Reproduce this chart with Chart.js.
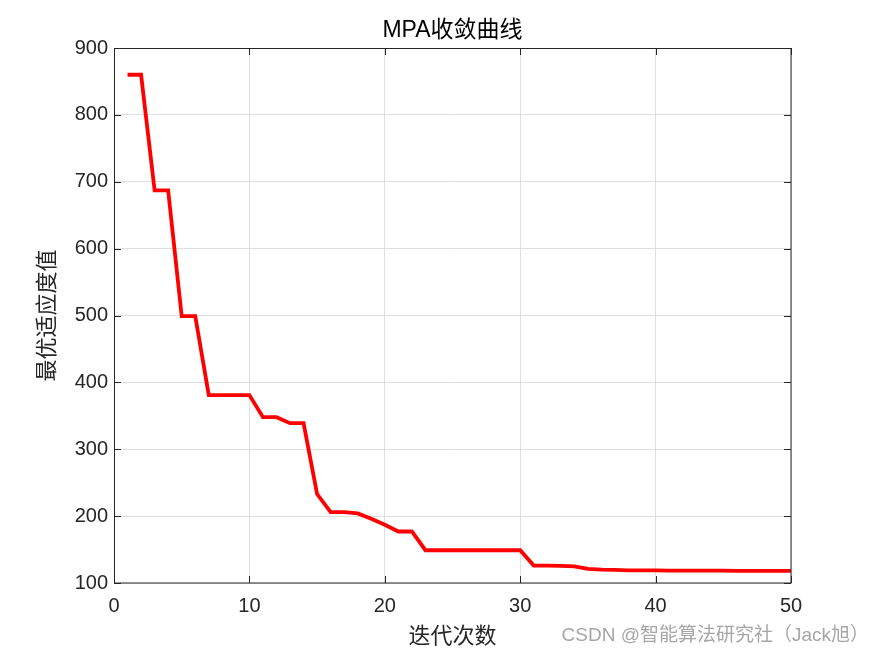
<!DOCTYPE html>
<html>
<head>
<meta charset="utf-8">
<script src="https://cdn.jsdelivr.net/npm/chart.js@4.4.0/dist/chart.umd.min.js"></script>
<style>
html,body{margin:0;padding:0;background:#fff;}
#c{display:block;}
</style>
</head>
<body>
<canvas id="c" width="875" height="656"></canvas>
<script>
const iterations = [1,2,3,4,5,6,7,8,9,10,11,12,13,14,15,16,17,18,19,20,21,22,23,24,25,26,27,28,29,30,31,32,33,34,35,36,37,38,39,40,41,42,43,44,45,46,47,48,49,50];
const bestFitness = [860,860,687,687,499,499,381,381,381,381,348,348,339,339,233,206,206,204,196,187,177,177,149,149,149,149,149,149,149,149,126,126,125.5,125,121,120,119.5,119,119,119,118.5,118.5,118.5,118.5,118.5,118,118,118,118,118];
const xTicks = [0,10,20,30,40,50];
const yTicks = [100,200,300,400,500,600,700,800,900];
const chartTitle = 'MPA收敛曲线';
const xTitle = '迭代次数';
const yTitle = '最优适应度值';
const watermark = 'CSDN @智能算法研究社（Jack旭）';

const points = iterations.map((x, i) => ({x: x, y: bestFitness[i]}));
const tickFont = {family: '"Liberation Sans", Arial, sans-serif', size: 20};
const axisColor = '#262626';

const decor = {
  id: 'decor',
  afterDraw(chart) {
    const ctx = chart.ctx;
    const a = chart.chartArea;
    const xs = chart.scales.x, ys = chart.scales.y;
    ctx.save();
    ctx.strokeStyle = axisColor;
    ctx.lineWidth = 1;
    ctx.strokeRect(Math.round(a.left) + 0.5, Math.round(a.top) + 0.5, Math.round(a.right - a.left) - 1 + 0.5, Math.round(a.bottom - a.top) - 1 + 0.5);
    const tl = 7;
    ctx.beginPath();
    xTicks.forEach(v => {
      const px = Math.round(xs.getPixelForValue(v)) + 0.5;
      ctx.moveTo(px, a.bottom); ctx.lineTo(px, a.bottom - tl);
      ctx.moveTo(px, a.top); ctx.lineTo(px, a.top + tl);
    });
    yTicks.forEach(v => {
      const py = Math.round(ys.getPixelForValue(v)) + 0.5;
      ctx.moveTo(a.left, py); ctx.lineTo(a.left + tl, py);
      ctx.moveTo(a.right, py); ctx.lineTo(a.right - tl, py);
    });
    ctx.stroke();
    const cx = (a.left + a.right) / 2;
    ctx.fillStyle = '#000';
    ctx.textAlign = 'center';
    ctx.textBaseline = 'middle';
    ctx.font = '23px "Liberation Sans", "Noto Sans CJK SC", sans-serif';
    ctx.fillText(chartTitle, cx, 31);
    ctx.fillStyle = axisColor;
    ctx.font = '22px "Noto Sans CJK SC", sans-serif';
    ctx.fillText(xTitle, cx, 635);
    ctx.save();
    ctx.translate(46, (a.top + a.bottom) / 2);
    ctx.rotate(-Math.PI / 2);
    ctx.fillText(yTitle, 0, 0);
    ctx.restore();
    ctx.fillStyle = '#a6a6a6';
    ctx.textAlign = 'right';
    ctx.font = '19px "Liberation Sans", "Noto Sans CJK SC", sans-serif';
    ctx.fillText(watermark, 869, 636);
    ctx.restore();
  }
};

new Chart(document.getElementById('c'), {
  type: 'line',
  data: {
    datasets: [{
      data: points,
      borderColor: '#ff0000',
      borderWidth: 3.8,
      pointRadius: 0,
      tension: 0,
      fill: false
    }]
  },
  options: {
    responsive: false,
    animation: false,
    devicePixelRatio: 1,
    layout: {padding: {left: 0, top: 48, right: 84, bottom: 0}},
    plugins: {legend: {display: false}, tooltip: {enabled: false}, title: {display: false}},
    scales: {
      x: {
        type: 'linear',
        min: 0, max: 50,
        afterFit(s) { s.height = 73; },
        afterBuildTicks(s) { s.ticks = xTicks.map(v => ({value: v})); },
        grid: {color: '#dfdfdf', lineWidth: 1, drawTicks: false},
        border: {display: false},
        ticks: {font: tickFont, color: axisColor, padding: 11, maxRotation: 0}
      },
      y: {
        type: 'linear',
        min: 100, max: 900,
        afterFit(s) { s.width = 114; },
        afterBuildTicks(s) { s.ticks = yTicks.map(v => ({value: v})); },
        grid: {color: '#dfdfdf', lineWidth: 1, drawTicks: false},
        border: {display: false},
        ticks: {font: tickFont, color: axisColor, padding: 6}
      }
    }
  },
  plugins: [decor]
});
</script>
</body>
</html>
